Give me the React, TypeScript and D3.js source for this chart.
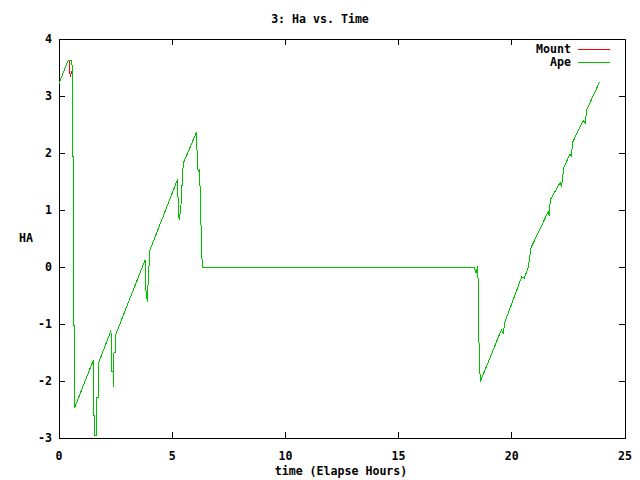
import React from "react";
import * as d3 from "d3";

const title = "3: Ha vs. Time";
const xLabel = "time (Elapse Hours)";
const yLabel = "HA";
const xTicks = [0, 5, 10, 15, 20, 25];
const yTicks = [-3, -2, -1, 0, 1, 2, 3, 4];

const apeX = [0.0, 0.41, 0.53, 0.57, 0.59, 0.59, 0.63, 0.63, 0.68, 0.68,
  1.52, 1.53, 1.59, 1.59, 1.66, 1.66, 1.74, 1.74,
  2.28, 2.33, 2.33, 2.4, 2.4, 2.43, 2.5, 2.5,
  3.8, 3.84, 3.9, 3.92, 3.98, 4.02,
  5.2, 5.24, 5.27, 5.31, 5.34, 5.39, 5.45, 5.49,
  6.08, 6.11, 6.15, 6.2, 6.24, 6.29, 6.33,
  18.33, 18.42, 18.5, 18.52, 18.56, 18.61,
  19.48, 19.55, 19.62, 19.7,
  20.44, 20.55, 20.73, 20.85,
  21.61, 21.65, 21.7,
  22.13, 22.2, 22.3,
  22.57, 22.62, 22.7,
  23.16, 23.25, 23.3,
  23.87];
const apeY = [3.22, 3.63, 3.63, 3.57, 3.45, 1.93, 1.93, -1.02, -1.02, -2.48,
  -1.63, -2.6, -2.6, -2.95, -2.95, -2.29, -2.29, -1.69,
  -1.13, -1.2, -1.83, -1.83, -2.1, -1.5, -1.5, -1.19,
  0.12, -0.41, -0.61, -0.4, 0.05, 0.3,
  1.5, 1.54, 0.98, 0.82, 0.9, 1.1, 1.55, 1.82,
  2.37, 1.77, 1.67, 1.72, 1.29, 0.44, 0.0,
  0.0, -0.11, 0.02, -0.52, -1.52, -2.01,
  -1.16, -1.11, -1.16, -0.96,
  -0.17, -0.2, 0.0, 0.34,
  0.97, 0.9, 1.18,
  1.48, 1.42, 1.75,
  1.98, 1.95, 2.2,
  2.57, 2.52, 2.75,
  3.24];

// Mount follows Ape except for a short dip near the first peak
const mountHeadX = [0.0, 0.41, 0.46, 0.46, 0.52, 0.53, 0.53];
const mountHeadY = [3.22, 3.63, 3.6, 3.4, 3.36, 3.33, 3.38];
const mountJoinIndex = 4; // Mount continues on the Ape samples from here

const FONT = "'DejaVu Sans Mono', monospace";

export default function App() {
  const W = 640, H = 480;
  const L = 59, R = 625, T = 39, B = 438;
  const x = d3.scaleLinear().domain([0, 25]).range([L, R]);
  const y = d3.scaleLinear().domain([-3, 4]).range([B, T]);
  const line = d3.line<[number, number]>().x(d => x(d[0])).y(d => y(d[1]));
  const ape = apeX.map((v, i) => [v, apeY[i]] as [number, number]);
  const mount = mountHeadX.map((v, i) => [v, mountHeadY[i]] as [number, number])
    .concat(ape.slice(mountJoinIndex));
  const tk = 6;
  const textStyle = { fontFamily: FONT, fontSize: 11.6, fontWeight: "bold" as const, fill: "#000" };
  return (
    <svg width={W} height={H} style={{ position: "absolute", left: 0, top: 0, background: "#fff" }}>
      <rect x={0} y={0} width={W} height={H} fill="#fff" />
      <g shapeRendering="crispEdges" stroke="#000" strokeWidth={1}>
        {xTicks.map(t => (
          <g key={"x" + t}>
            <line x1={x(t)} x2={x(t)} y1={B} y2={B - tk} />
            <line x1={x(t)} x2={x(t)} y1={T} y2={T + tk} />
          </g>
        ))}
        {yTicks.map(t => (
          <g key={"y" + t}>
            <line x1={L} x2={L + tk} y1={y(t)} y2={y(t)} />
            <line x1={R} x2={R - tk} y1={y(t)} y2={y(t)} />
          </g>
        ))}
        <rect x={L} y={T} width={R - L} height={B - T} fill="none" />
      </g>
      {xTicks.map(t => (
        <text key={"xl" + t} x={x(t)} y={B + 22} textAnchor="middle" {...textStyle}>{t}</text>
      ))}
      {yTicks.map(t => (
        <text key={"yl" + t} x={L - 7} y={y(t) + 4} textAnchor="end" {...textStyle}>{t}</text>
      ))}
      <text x={320} y={23} textAnchor="middle" {...textStyle}>{title}</text>
      <text x={341} y={475} textAnchor="middle" {...textStyle}>{xLabel}</text>
      <text x={26} y={242} textAnchor="middle" {...textStyle}>{yLabel}</text>
      <text x={571} y={53} textAnchor="end" {...textStyle}>Mount</text>
      <text x={571} y={66} textAnchor="end" {...textStyle}>Ape</text>
      <g shapeRendering="crispEdges">
        <line x1={578} x2={610} y1={49.5} y2={49.5} stroke="#ff0000" />
        <line x1={578} x2={610} y1={62.5} y2={62.5} stroke="#00c000" />
        <path d={line(mount) || ""} fill="none" stroke="#ff0000" strokeWidth={1} />
        <path d={line(ape) || ""} fill="none" stroke="#00c000" strokeWidth={1} />
      </g>
    </svg>
  );
}
